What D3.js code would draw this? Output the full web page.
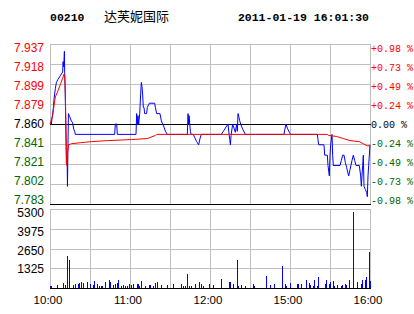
<!DOCTYPE html>
<html>
<head>
<meta charset="utf-8">
<script src="https://cdn.jsdelivr.net/npm/d3@7"></script>
<style>
  body { margin: 0; background: #fff; }
  svg { display: block; }
</style>
</head>
<body>
<div id="chart"></div>
<script>
// header
const stockCode = "00210";
const stockName = "达芙妮国际";
const stampText = "2011-01-19 16:01:30";

// axis values
const prevClose = 7.86;
const priceTicks = ["7.937", "7.918", "7.899", "7.879", "7.860", "7.841", "7.821", "7.802", "7.783"];
const pctTicks = ["+0.98 %", "+0.73 %", "+0.49 %", "+0.24 %", "0.00 %", "-0.24 %", "-0.49 %", "-0.73 %", "-0.98 %"];
const volTicks = [5300, 3975, 2650, 1325];
const timeTicks = [0, 60, 120, 180, 240];
const timeLabels = ["10:00", "11:00", "12:00", "15:00", "16:00"];

// price line (minutes after 10:00, lunch removed)
const priceMin = [0, 1, 1.5, 2.5, 3, 4, 4.8, 6, 8, 9.5, 9.8, 10.3, 10.8, 11, 11.3, 12.3, 12.8, 13.1, 13.8, 14.8,
  16, 17, 17.8, 18.5, 19, 48.5, 49, 50, 50.5, 64.5, 65, 65.5, 66, 66.5, 67.3, 68, 68.5, 69, 69.5, 70,
  70.5, 71, 72.5, 73, 74.5, 78.5, 79, 80, 82.5, 83.5, 84.5, 85.5, 86.5, 88, 103, 103.5, 104, 104.3, 104.8, 105.3,
  105.8, 107.5, 108.5, 110, 111.5, 112.5, 113.5, 128.5, 130.5, 132.5, 133.5, 134.3, 134.8, 135.3, 135.8, 137, 138, 139, 140, 140.5,
  141, 141.8, 142.3, 143, 144.5, 146.5, 175.5, 176, 177, 178, 179.5, 180.5, 200.5, 201, 201.5, 205.5, 206, 208,
  208.5, 209.5, 210, 210.5, 211.5, 212, 212.5, 217.5, 218.5, 219.5, 220.5, 221.5, 222.5, 224, 225, 226.5, 227.5, 228.5,
  229.5, 232, 233, 233.5, 234, 234.5, 235, 235.5, 236.5, 237.5, 238, 238.5, 239, 240];
const priceVal = [7.860, 7.860, 7.865, 7.875, 7.884, 7.894, 7.900, 7.903, 7.907, 7.910, 7.920, 7.915, 7.930, 7.910, 7.897, 7.822, 7.830, 7.800, 7.870, 7.867,
  7.863, 7.861, 7.855, 7.853, 7.850, 7.850, 7.860, 7.860, 7.850, 7.850, 7.870, 7.860, 7.868, 7.860, 7.870, 7.889, 7.900, 7.896, 7.888, 7.876,
  7.876, 7.870, 7.870, 7.876, 7.880, 7.880, 7.876, 7.870, 7.870, 7.863, 7.860, 7.857, 7.853, 7.850, 7.850, 7.870, 7.860, 7.868, 7.860, 7.853,
  7.850, 7.850, 7.847, 7.843, 7.840, 7.846, 7.850, 7.850, 7.854, 7.858, 7.860, 7.850, 7.845, 7.840, 7.849, 7.860, 7.856, 7.852, 7.860, 7.853,
  7.870, 7.866, 7.863, 7.860, 7.855, 7.850, 7.850, 7.854, 7.860, 7.856, 7.852, 7.850, 7.850, 7.845, 7.840, 7.840, 7.830, 7.830,
  7.820, 7.810, 7.830, 7.840, 7.850, 7.830, 7.820, 7.820, 7.825, 7.830, 7.830, 7.823, 7.818, 7.810, 7.816, 7.825, 7.830, 7.825,
  7.820, 7.820, 7.810, 7.800, 7.810, 7.820, 7.830, 7.800, 7.797, 7.794, 7.790, 7.810, 7.820, 7.840];

// average price line
const avgMin = [0, 2, 3, 4, 6, 8, 9.5, 10.5, 11, 11.5, 12.5, 13, 14, 16, 23, 31, 43, 61, 73, 75,
  79, 80, 208, 209, 215, 220, 225, 232, 235, 238, 240];
const avgVal = [7.860, 7.868, 7.878, 7.886, 7.892, 7.899, 7.904, 7.908, 7.907, 7.890, 7.820, 7.831, 7.840, 7.841, 7.842, 7.843, 7.844, 7.845, 7.846, 7.847,
  7.849, 7.850, 7.850, 7.849, 7.848, 7.846, 7.844, 7.843, 7.841, 7.839, 7.839];

// volume bars
const volMin = [0, 1, 5, 10, 11, 13, 14, 17, 19, 21, 22, 23, 25, 28, 30, 32, 33, 35, 37, 38,
  39, 41, 44, 45, 47, 49, 50, 51, 53, 55, 56, 58, 59, 61, 62, 65, 66, 67, 68, 71,
  74, 75, 77, 79, 80, 83, 88, 92, 98, 100, 101, 103, 104, 106, 109, 112, 113, 115, 119, 122,
  128, 134, 135, 137, 140, 141, 143, 146, 152, 153, 162, 165, 168, 174, 176, 177, 180, 185, 186, 188,
  192, 194, 195, 197, 198, 200, 201, 206, 207, 209, 210, 212, 213, 215, 218, 219, 221, 222, 224, 227,
  230, 233, 234, 236, 237, 239, 240];
const volVal = [155, 155, 221, 353, 221, 2164, 1877, 221, 287, 265, 353, 420, 353, 420, 265, 221, 486, 287, 155, 155,
  155, 420, 552, 420, 221, 287, 353, 552, 155, 221, 155, 155, 287, 221, 287, 287, 287, 155, 486, 155,
  221, 221, 155, 353, 420, 221, 221, 287, 287, 155, 155, 949, 155, 155, 287, 420, 287, 155, 287, 221,
  618, 420, 420, 287, 1877, 155, 221, 155, 287, 155, 817, 221, 287, 1479, 287, 155, 353, 287, 287, 287,
  552, 353, 221, 155, 552, 155, 751, 287, 552, 287, 420, 486, 155, 221, 155, 221, 287, 221, 552, 5123,
  420, 287, 552, 552, 751, 2407, 486];

const W = 414, H = 314;
const grid = "#c0c0c0", up = "#ff0000", down = "#006600";

const svg = d3.select("#chart").append("svg")
  .attr("width", W).attr("height", H);

const x = d3.scaleLinear().domain([0, 240]).range([50, 370]);
const y = d3.scaleLinear().domain([prevClose * (1 - 0.0098), prevClose * (1 + 0.0098)]).range([204, 44]);
const vy = d3.scaleLinear().domain([0, 5300]).range([288, 209]);

const px = v => Math.round(v) + 0.5;

// header
svg.append("text").attr("x", 50).attr("y", 21)
  .style("font", "bold 11.5px 'Liberation Mono', monospace").text(stockCode);
svg.append("text").attr("x", 104).attr("y", 21)
  .style("font", "13px 'Noto Sans CJK SC', sans-serif").text(stockName);
svg.append("text").attr("x", 369).attr("y", 21).attr("text-anchor", "end")
  .style("font", "bold 11.5px 'Liberation Mono', monospace").text(stampText);

// price panel grid
const gridTimes = d3.range(0, 241, 30);
const span = y.domain()[1] - y.domain()[0];
const gridPrices = d3.range(9).map(i => y.domain()[1] - i * span / 8);

const gMain = svg.append("g").attr("shape-rendering", "crispEdges");
gMain.selectAll(".v").data(gridTimes).join("line")
  .attr("x1", d => px(x(d))).attr("x2", d => px(x(d)))
  .attr("y1", 44).attr("y2", 204)
  .attr("stroke", grid);
gMain.selectAll(".h").data(gridPrices).join("line")
  .attr("x1", 50).attr("x2", px(370))
  .attr("y1", d => px(y(d))).attr("y2", d => px(y(d)))
  .attr("stroke", (d, i) => (i === 4 || i === 8) ? "#000" : grid);

// price labels
const tickColor = i => i < 4 ? up : (i === 4 ? "#000" : down);
svg.selectAll(".pl").data(priceTicks).join("text")
  .attr("x", 44).attr("y", (d, i) => y(gridPrices[i]) + (4 - i))
  .attr("dy", "0.35em").attr("text-anchor", "end")
  .style("font", "12px 'Liberation Sans', Arial, sans-serif")
  .attr("fill", (d, i) => tickColor(i)).text(d => d);
svg.selectAll(".pr").data(pctTicks).join("text")
  .attr("x", 371).attr("y", (d, i) => y(gridPrices[i]) + (4 - i))
  .attr("dy", "0.35em").attr("text-anchor", "start")
  .style("font", "10px 'Liberation Mono', monospace")
  .attr("fill", (d, i) => tickColor(i)).text(d => d);

// lines
const line = d3.line().x(d => x(d[0])).y(d => y(d[1]));
svg.append("path")
  .datum(priceMin.map((m, i) => [m, priceVal[i]]))
  .attr("d", line).attr("fill", "none").attr("stroke", "#0000ff").attr("stroke-width", 1);
svg.append("path")
  .datum(avgMin.map((m, i) => [m, avgVal[i]]))
  .attr("d", line).attr("fill", "none").attr("stroke", up).attr("stroke-width", 1);

// volume panel
const gVol = svg.append("g").attr("shape-rendering", "crispEdges");
gVol.selectAll(".v").data(gridTimes).join("line")
  .attr("x1", d => px(x(d))).attr("x2", d => px(x(d)))
  .attr("y1", 209).attr("y2", 288)
  .attr("stroke", grid);
gVol.selectAll(".h").data(volTicks).join("line")
  .attr("x1", 50).attr("x2", px(370))
  .attr("y1", d => px(vy(d))).attr("y2", d => px(vy(d)))
  .attr("stroke", grid);

gVol.selectAll("rect").data(volMin.map((m, i) => [m, volVal[i]])).join("rect")
  .attr("x", d => Math.round(x(d[0])))
  .attr("width", 1)
  .attr("y", d => vy(d[1]))
  .attr("height", d => vy(0) - vy(d[1]))
  .attr("fill", "#0000ff");

gVol.append("line")
  .attr("x1", 50).attr("x2", px(370))
  .attr("y1", px(vy(0))).attr("y2", px(vy(0)))
  .attr("stroke", "#000");

svg.selectAll(".vl").data(volTicks).join("text")
  .attr("x", 44).attr("y", (d, i) => vy(d) + (4 - i))
  .attr("dy", "0.35em").attr("text-anchor", "end")
  .style("font", "12px 'Liberation Sans', Arial, sans-serif")
  .attr("fill", "#000").text(d => d);

// time axis
svg.selectAll(".tl").data(timeTicks).join("text")
  .attr("x", d => x(d) - 2).attr("y", 304)
  .attr("text-anchor", "middle")
  .style("font", "11.5px 'Liberation Sans', Arial, sans-serif")
  .attr("fill", "#000").text((d, i) => timeLabels[i]);
</script>
</body>
</html>
